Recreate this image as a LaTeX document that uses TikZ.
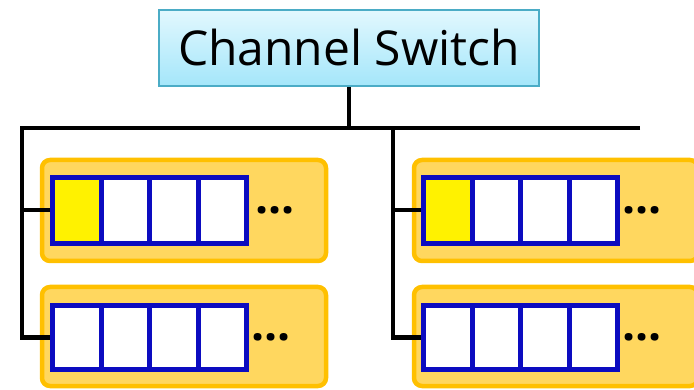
\documentclass[tikz,border=0pt]{standalone}
\usepackage{fontspec}
\setmainfont{Open Sans}
\usetikzlibrary{positioning}
\definecolor{switchtop}{HTML}{E2F8FE}
\definecolor{switchbottom}{HTML}{A4E6FA}
\definecolor{switchedge}{HTML}{4BACC6}
\definecolor{panelfill}{HTML}{FFD75F}
\definecolor{paneledge}{HTML}{FFC000}
\definecolor{celledge}{HTML}{0C0CC0}
\tikzset{
  switchbox/.style={draw=switchedge,line width=2pt,top color=switchtop,
    bottom color=switchbottom,minimum width=380pt,minimum height=76pt,
    font=\fontsize{48}{50}\selectfont},
  panel/.style={draw=paneledge,fill=panelfill,line width=4.5pt,
    rounded corners=8pt,minimum width=284pt,minimum height=101pt},
  cell/.style={draw=celledge,line width=5pt,minimum width=48.5pt,
    minimum height=66pt,inner sep=0pt},
  more/.style={font=\bfseries\fontsize{46}{48}\selectfont,inner sep=0pt},
  bus/.style={line width=4pt}
}

\begin{document}
\begin{tikzpicture}[x=1pt,y=-1pt]
\clip (0,0) rectangle (694,390);

\node [switchbox] (switch) at (349,48) {Channel Switch};

\node [panel]                     (panela) at (184,210.5) {};
\node [panel,minimum height=99pt] (panelb) at (184,336.5) {};
\node [panel]                     (panelc) at (556,210.5) {};
\node [panel,minimum height=99pt] (paneld) at (556,336.5) {};

\foreach \i/\f in {1/yellow,2/white,3/white,4/white} {
  \node [cell,fill=\f] (qa\i) at ({52.5+48.5*(\i-0.5)},210.5) {};
  \node [cell,fill=\f] (qc\i) at ({423.5+48.5*(\i-0.5)},210.5) {};
}
\foreach \i in {1,...,4} {
  \node [cell,fill=white,minimum height=64pt] (qb\i) at ({52.5+48.5*(\i-0.5)},337.5) {};
  \node [cell,fill=white,minimum height=64pt] (qd\i) at ({423.5+48.5*(\i-0.5)},337.5) {};
}

\node [more,right=6pt of qa4] (dotsa) {...};
\node [more,right=2pt of qb4] (dotsb) {...};
\node [more,right=2pt of qc4] (dotsc) {...};
\node [more,right=2pt of qd4] (dotsd) {...};

\coordinate (busl)  at ( 22,128);
\coordinate (busr)  at (640,128);
\coordinate (forkr) at (393,128);

\draw [bus] (switch.south) -- (switch.south |- busl);
\draw [bus] (busr) -- (busl) |- (qb1.west);
\draw [bus] (qa1.west) -- (qa1.west -| busl);
\draw [bus] (forkr) |- (qd1.west);
\draw [bus] (qc1.west) -- (qc1.west -| forkr);
\end{tikzpicture}
\end{document}
